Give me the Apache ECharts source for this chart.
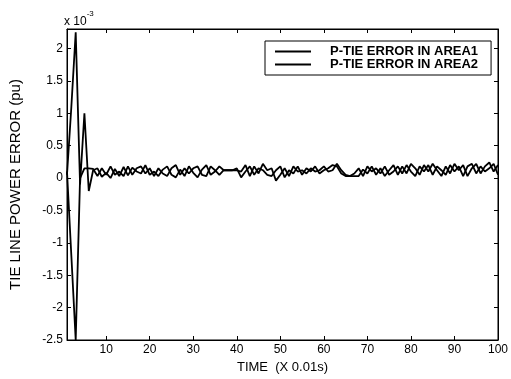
<!DOCTYPE html>
<html>
<head>
<meta charset="utf-8">
<script src="https://cdn.jsdelivr.net/npm/echarts@6/dist/echarts.min.js"></script>
<style>
  html, body { margin: 0; padding: 0; background: #fff; }
  #main { width: 511px; height: 379px; }
</style>
</head>
<body>
<div id="main"></div>
<script>
// time steps (x 0.01s), 1..100
var time = [];
for (var i = 1; i <= 100; i++) time.push(i);

// P-tie error, units of 1e-3 pu
var area1 = [
  0.05, 1.10, 2.25, -0.10, 1.00, -0.20, 0.12, 0.15, 0.02, 0.08,
  0.00, 0.14, 0.03, 0.17, 0.04, 0.16, 0.10, 0.07, 0.20, 0.05,
  0.10, 0.03, 0.13, 0.18, 0.05, 0.01, 0.13, 0.03, 0.18, 0.08,
  0.01, 0.13, 0.20, 0.05, 0.10, 0.18, 0.12, 0.12, 0.12, 0.12,
  0.10, 0.20, 0.03, 0.18, 0.07, 0.22, 0.12, 0.15, -0.04, 0.05,
  0.15, 0.03, 0.18, 0.10, 0.12, 0.07, 0.15, 0.10, 0.12, 0.18,
  0.10, 0.12, 0.22, 0.12, 0.05, 0.03, 0.03, 0.03, 0.13, 0.07,
  0.18, 0.05, 0.15, 0.03, 0.12, 0.20, 0.05, 0.18, 0.07, 0.22,
  0.15, 0.05, 0.20, 0.10, 0.22, 0.12, 0.03, 0.18, 0.07, 0.22,
  0.12, 0.20, 0.03, 0.15, 0.22, 0.07, 0.18, 0.24, 0.10, 0.20
];
var area2 = [
  0.10, -1.20, -2.50, 0.00, 0.15, 0.15, 0.14, 0.03, 0.15, 0.05,
  0.18, 0.05, 0.10, 0.03, 0.18, 0.05, 0.15, 0.18, 0.07, 0.15,
  0.03, 0.15, 0.07, 0.03, 0.15, 0.20, 0.05, 0.15, 0.07, 0.15,
  0.18, 0.05, 0.03, 0.18, 0.12, 0.05, 0.12, 0.12, 0.12, 0.15,
  0.01, 0.10, 0.18, 0.05, 0.15, 0.12, 0.05, 0.03, 0.12, 0.18,
  0.01, 0.12, 0.07, 0.18, 0.05, 0.15, 0.10, 0.18, 0.07, 0.12,
  0.15, 0.20, 0.18, 0.07, 0.03, 0.03, 0.07, 0.15, 0.03, 0.18,
  0.10, 0.15, 0.07, 0.18, 0.05, 0.10, 0.18, 0.07, 0.20, 0.10,
  0.03, 0.18, 0.10, 0.20, 0.05, 0.18, 0.12, 0.05, 0.20, 0.10,
  0.18, 0.03, 0.18, 0.22, 0.07, 0.18, 0.10, 0.15, 0.22, 0.05
];

var xTicks = [10, 20, 30, 40, 50, 60, 70, 80, 90, 100];
var yTicks = [-2.5, -2, -1.5, -1, -0.5, 0, 0.5, 1, 1.5, 2];

function pairs(xs, ys) {
  return xs.map(function (x, i) { return [x, ys[i]]; });
}

var font = "Liberation Sans, Arial, sans-serif";

var myChart = echarts.init(document.getElementById("main"));

var option = {
  animation: false,
  backgroundColor: "#fff",
  textStyle: { fontFamily: font, color: "#000" },
  grid: {
    left: 66, right: 8, top: 29, bottom: 39,
    show: true, borderColor: "#000", borderWidth: 1
  },
  legend: {
    left: 265, top: 41,
    orient: "vertical",
    data: ["P-TIE ERROR IN AREA1", "P-TIE ERROR IN AREA2"],
    icon: "rect",
    itemWidth: 36, itemHeight: 2, itemGap: 0,
    padding: [4, 13, 4, 10],
    borderColor: "#000", borderWidth: 1, backgroundColor: "#fff",
    textStyle: {
      fontFamily: font, fontSize: 13, fontWeight: "bold", color: "#000",
      padding: [0, 0, 0, 14], lineHeight: 12
    }
  },
  graphic: [{
    type: "text", left: 64, top: 10,
    style: {
      text: "{a|x 10}{b|-3}",
      rich: {
        a: { fontFamily: font, fontSize: 12, fill: "#000", padding: [6, 0, 0, 0] },
        b: { fontFamily: font, fontSize: 8, fill: "#000", verticalAlign: "top" }
      }
    }
  }],
  xAxis: [{
    type: "value", min: 1, max: 100,
    name: "TIME  (X 0.01s)", nameLocation: "middle", nameGap: 15,
    nameTextStyle: { fontFamily: font, fontSize: 13, color: "#000" },
    axisLine: { show: true, onZero: false, lineStyle: { color: "#000" } },
    axisTick: { inside: true, length: 4, customValues: xTicks, lineStyle: { color: "#000" } },
    axisLabel: { customValues: xTicks, margin: 4, fontSize: 12, color: "#000", fontFamily: font },
    splitLine: { show: false }
  }, {
    type: "value", min: 1, max: 100, position: "top",
    axisLine: { show: true, onZero: false, lineStyle: { color: "#000" } },
    axisTick: { inside: true, length: 4, customValues: xTicks, lineStyle: { color: "#000" } },
    axisLabel: { show: false },
    splitLine: { show: false }
  }],
  yAxis: [{
    type: "value", min: -2.5, max: 2.3,
    name: "TIE LINE POWER ERROR (pu)", nameLocation: "middle", nameGap: 44,
    nameTextStyle: { fontFamily: font, fontSize: 15, color: "#000" },
    axisLine: { show: true, onZero: false, lineStyle: { color: "#000" } },
    axisTick: { inside: true, length: 4, customValues: yTicks, lineStyle: { color: "#000" } },
    axisLabel: { customValues: yTicks, margin: 4, fontSize: 12, color: "#000", fontFamily: font },
    splitLine: { show: false }
  }, {
    type: "value", min: -2.5, max: 2.3, position: "right",
    axisLine: { show: true, onZero: false, lineStyle: { color: "#000" } },
    axisTick: { inside: true, length: 4, customValues: yTicks, lineStyle: { color: "#000" } },
    axisLabel: { show: false },
    splitLine: { show: false }
  }],
  series: [
    {
      name: "P-TIE ERROR IN AREA1",
      type: "line",
      symbol: "none",
      data: pairs(time, area1),
      lineStyle: { color: "#000", width: 1.8 },
      itemStyle: { color: "#000" }
    },
    {
      name: "P-TIE ERROR IN AREA2",
      type: "line",
      symbol: "none",
      data: pairs(time, area2),
      lineStyle: { color: "#000", width: 1.8 },
      itemStyle: { color: "#000" }
    }
  ]
};

myChart.setOption(option);
</script>
</body>
</html>
